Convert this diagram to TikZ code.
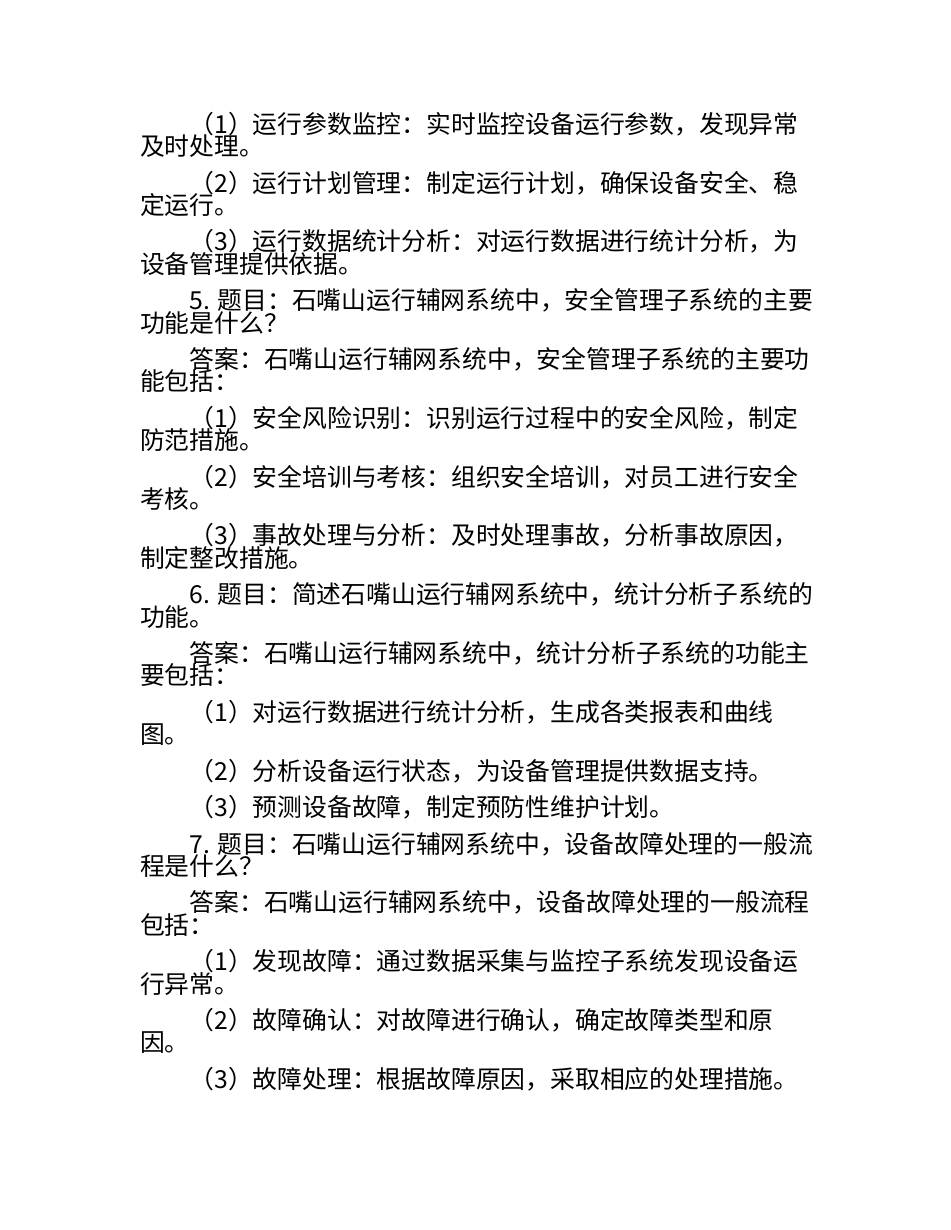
\documentclass[tikz,border=0pt]{standalone}
\usepackage{fontspec}
\newfontfamily\cjk{Noto Sans CJK SC}
\tikzset{
  txt/.style={anchor=base west, inner sep=0pt, outer sep=0pt, text=black,
    font=\cjk\fontsize{24.8pt}{30pt}\selectfont},
}
\begin{document}
\begin{tikzpicture}[x=1pt,y=1pt]
\fill[white] (0,0) rectangle (950,-1230);
\useasboundingbox (0,0) rectangle (950,-1230);
\def\ind{189.6}
\def\lm{140}
% P1
\node[txt] (p1a) at (\ind,-133.3) {（1）运行参数监控：实时监控设备运行参数，发现异常};
\node[txt] (p1b) at (\lm,-155.6) {及时处理。};
% P2
\node[txt] (p2a) at (\ind,-192.1) {（2）运行计划管理：制定运行计划，确保设备安全、稳};
\node[txt] (p2b) at (\lm,-214.4) {定运行。};
% P3
\node[txt] (p3a) at (\ind,-250.9) {（3）运行数据统计分析：对运行数据进行统计分析，为};
\node[txt] (p3b) at (\lm,-273.2) {设备管理提供依据。};
% P4
\node[txt] (p4a) at (\ind,-309.7) {5. 题目：石嘴山运行辅网系统中，安全管理子系统的主要};
\node[txt] (p4b) at (\lm,-332.0) {功能是什么？};
% P5
\node[txt] (p5a) at (\ind,-368.5) {答案：石嘴山运行辅网系统中，安全管理子系统的主要功};
\node[txt] (p5b) at (\lm,-390.8) {能包括：};
% P6
\node[txt] (p6a) at (\ind,-427.3) {（1）安全风险识别：识别运行过程中的安全风险，制定};
\node[txt] (p6b) at (\lm,-449.6) {防范措施。};
% P7
\node[txt] (p7a) at (\ind,-486.1) {（2）安全培训与考核：组织安全培训，对员工进行安全};
\node[txt] (p7b) at (\lm,-508.4) {考核。};
% P8
\node[txt] (p8a) at (\ind,-544.9) {（3）事故处理与分析：及时处理事故，分析事故原因，};
\node[txt] (p8b) at (\lm,-567.2) {制定整改措施。};
% P9
\node[txt] (p9a) at (\ind,-603.7) {6. 题目：简述石嘴山运行辅网系统中，统计分析子系统的};
\node[txt] (p9b) at (\lm,-626.0) {功能。};
% P10
\node[txt] (p10a) at (\ind,-662.5) {答案：石嘴山运行辅网系统中，统计分析子系统的功能主};
\node[txt] (p10b) at (\lm,-684.8) {要包括：};
% P11
\node[txt] (p11a) at (\ind,-721.3) {（1）对运行数据进行统计分析，生成各类报表和曲线};
\node[txt] (p11b) at (\lm,-743.6) {图。};
% P12
\node[txt] (p12a) at (\ind,-780.1) {（2）分析设备运行状态，为设备管理提供数据支持。};
% P13
\node[txt] (p13a) at (\ind,-816.6) {（3）预测设备故障，制定预防性维护计划。};
% P14
\node[txt] (p14a) at (\ind,-853.1) {7. 题目：石嘴山运行辅网系统中，设备故障处理的一般流};
\node[txt] (p14b) at (\lm,-875.4) {程是什么？};
% P15
\node[txt] (p15a) at (\ind,-911.9) {答案：石嘴山运行辅网系统中，设备故障处理的一般流程};
\node[txt] (p15b) at (\lm,-934.2) {包括：};
% P16
\node[txt] (p16a) at (\ind,-970.7) {（1）发现故障：通过数据采集与监控子系统发现设备运};
\node[txt] (p16b) at (\lm,-993.0) {行异常。};
% P17
\node[txt] (p17a) at (\ind,-1029.5) {（2）故障确认：对故障进行确认，确定故障类型和原};
\node[txt] (p17b) at (\lm,-1051.8) {因。};
% P18
\node[txt] (p18a) at (\ind,-1088.3) {（3）故障处理：根据故障原因，采取相应的处理措施。};
\end{tikzpicture}
\end{document}
